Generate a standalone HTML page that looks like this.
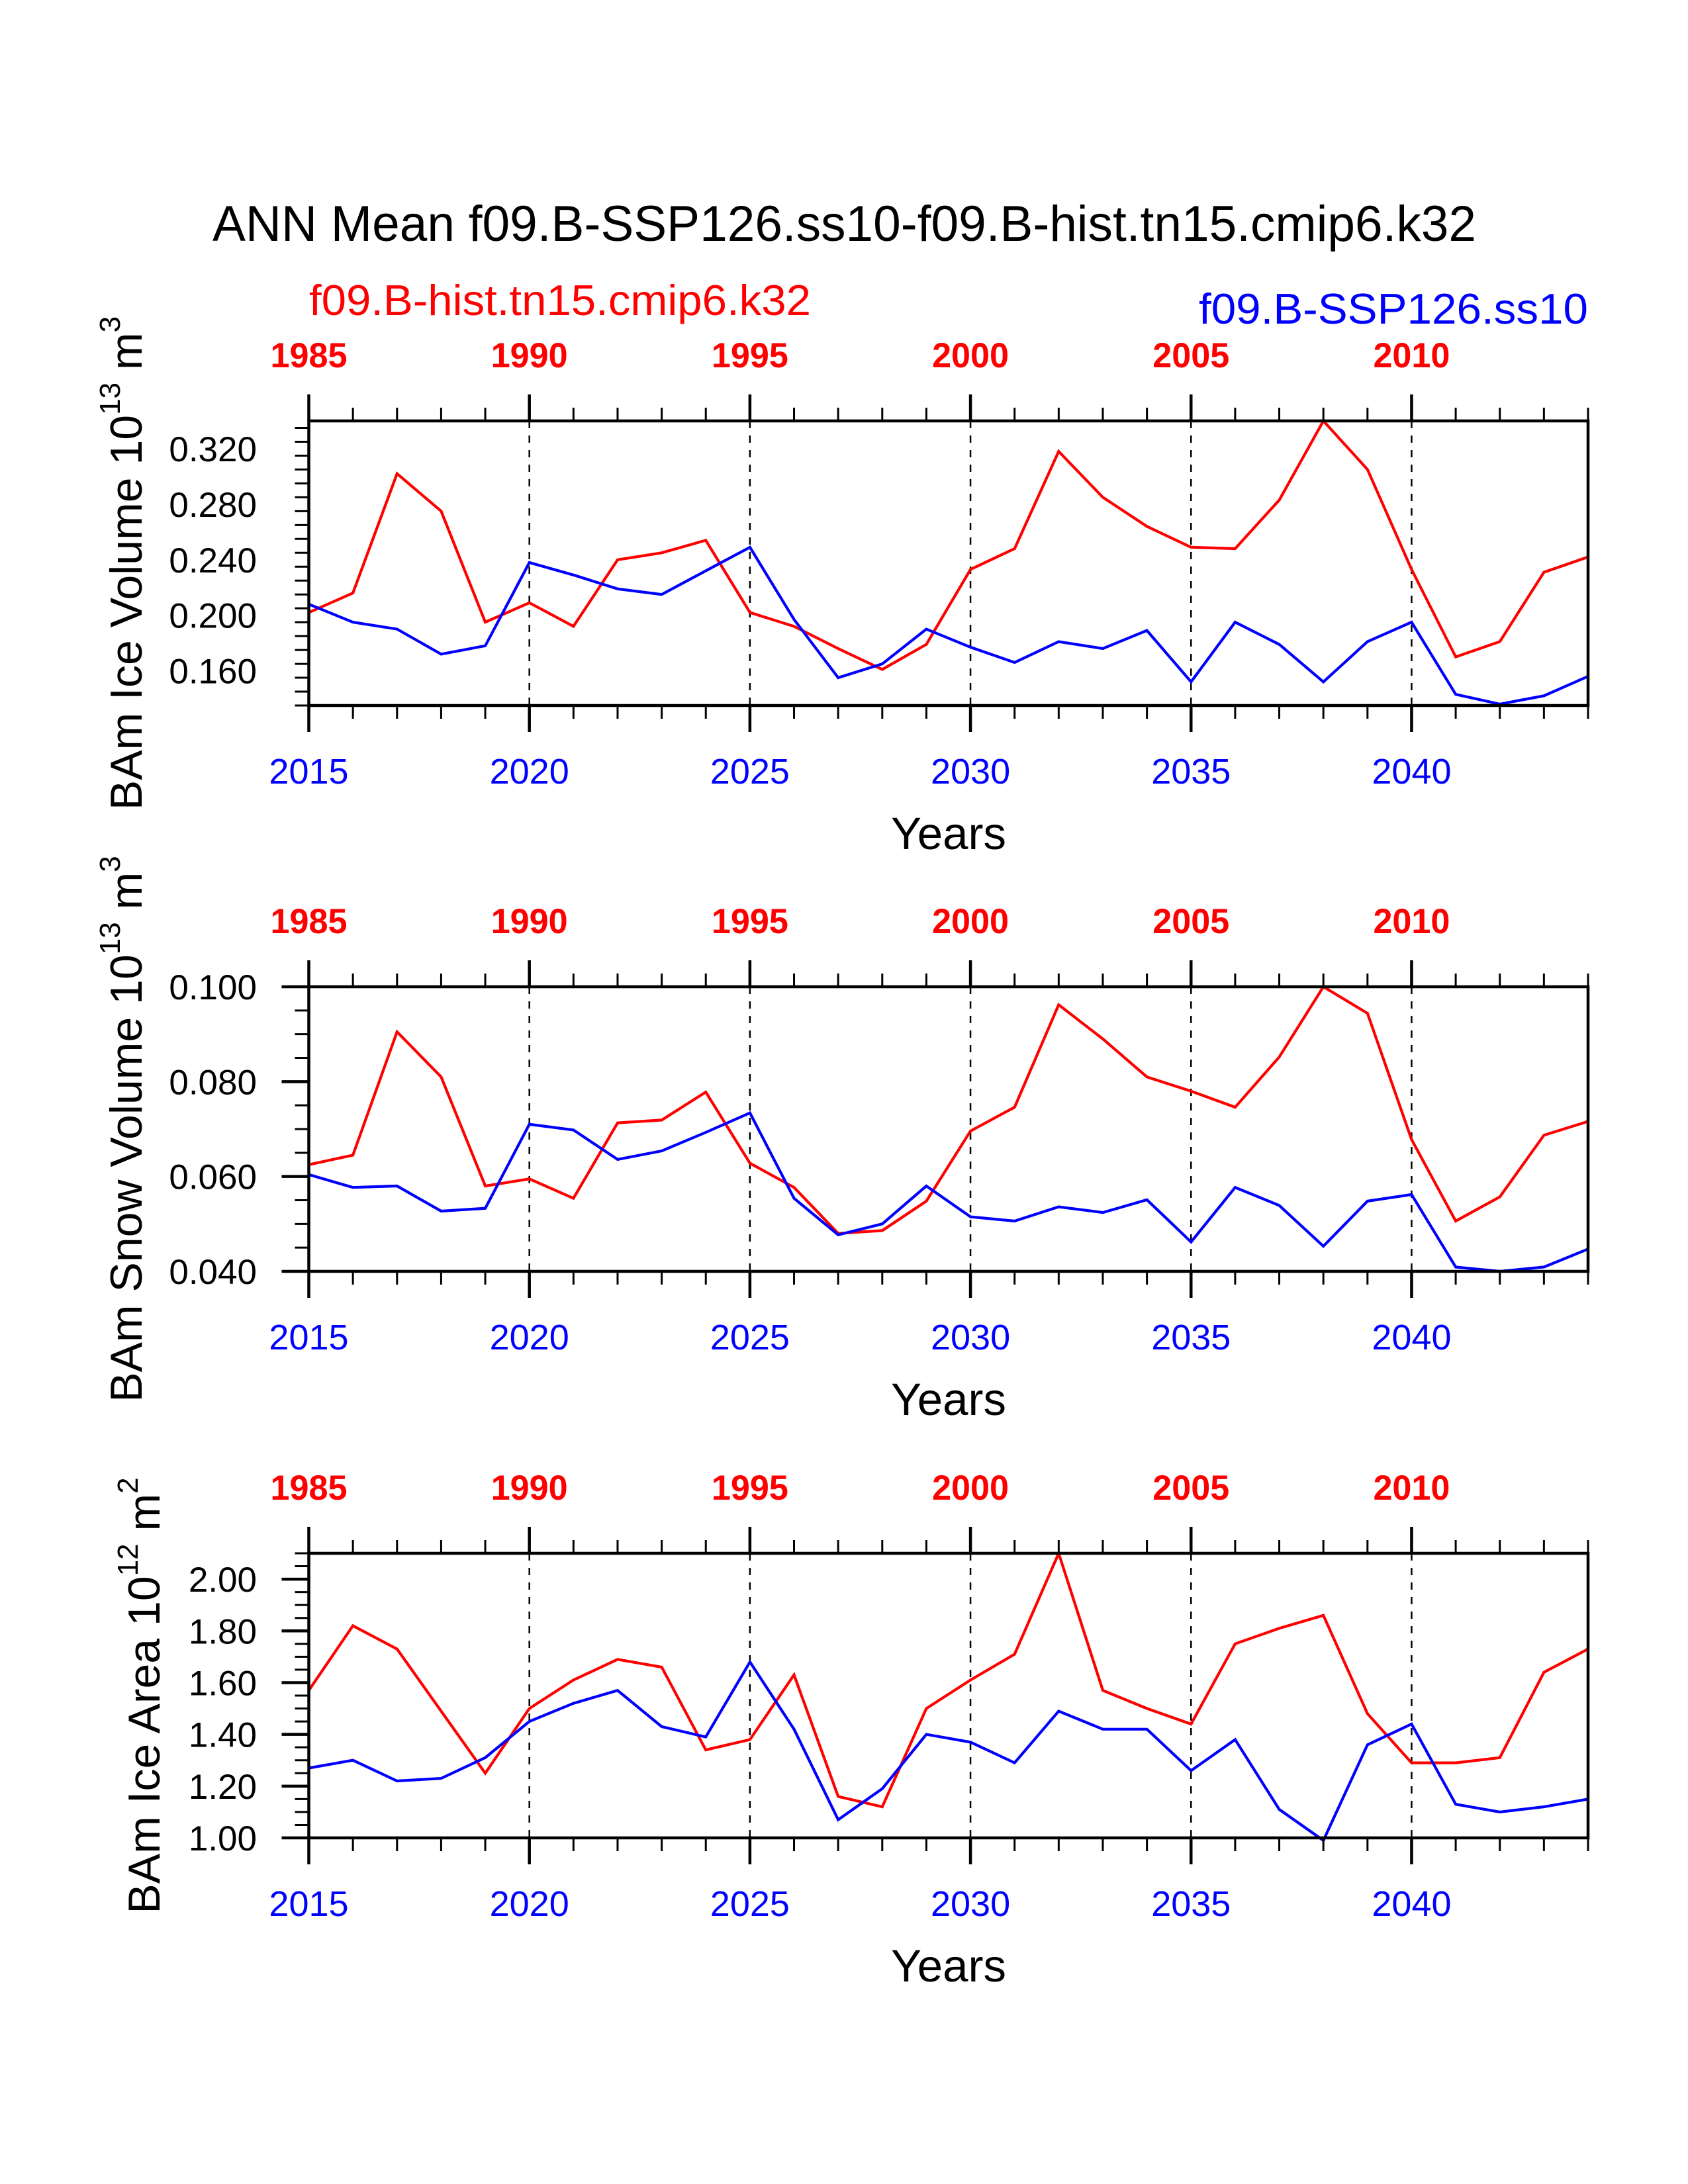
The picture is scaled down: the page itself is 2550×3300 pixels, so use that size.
<!DOCTYPE html>
<html><head><meta charset="utf-8"><style>
html,body{margin:0;padding:0;background:#fff;}
svg{display:block;}
text{font-family:"Liberation Sans",Arial,sans-serif;}
</style></head><body>
<svg id="fig" width="2550" height="3300" viewBox="0 0 2550 3300" xmlns="http://www.w3.org/2000/svg">
<rect width="2550" height="3300" fill="#fff"/>
<text x="321" y="364" font-size="76" textLength="1909" lengthAdjust="spacingAndGlyphs" fill="#000">ANN Mean f09.B-SSP126.ss10-f09.B-hist.tn15.cmip6.k32</text>
<text x="467" y="476" font-size="65" textLength="758" lengthAdjust="spacingAndGlyphs" fill="#ff0000">f09.B-hist.tn15.cmip6.k32</text>
<text x="1811" y="489" font-size="65" textLength="588" lengthAdjust="spacingAndGlyphs" fill="#0000ff">f09.B-SSP126.ss10</text>
<g id="plots"></g>
</svg>
<script>
// shared x data
const years = [2015,2016,2017,2018,2019,2020,2021,2022,2023,2024,2025,2026,2027,2028,2029,2030,2031,2032,2033,2034,2035,2036,2037,2038,2039,2040,2041,2042,2043,2044];
const bottomTicks = [2015,2020,2025,2030,2035,2040];
const topTicks = ["1985","1990","1995","2000","2005","2010"];
// panel 1: ice volume
const iceVolHist = [0.202,0.216,0.302,0.275,0.195,0.209,0.192,0.240,0.245,0.254,0.202,0.192,0.176,0.161,0.179,0.233,0.248,0.318,0.285,0.264,0.249,0.248,0.283,0.340,0.305,0.233,0.170,0.181,0.231,0.242];
const iceVolSsp = [0.208,0.195,0.190,0.172,0.178,0.238,0.229,0.219,0.215,0.232,0.249,0.197,0.155,0.165,0.190,0.177,0.166,0.181,0.176,0.189,0.152,0.195,0.179,0.152,0.181,0.195,0.143,0.136,0.142,0.156];
const iceVolTicks = [0.160,0.200,0.240,0.280,0.320];
// panel 2: snow volume
const snowVolHist = [0.0625,0.0645,0.0905,0.081,0.058,0.0595,0.0554,0.0713,0.0719,0.0778,0.0628,0.0577,0.048,0.0486,0.0548,0.0696,0.0746,0.0962,0.089,0.081,0.078,0.0746,0.0852,0.100,0.0944,0.0678,0.0506,0.0557,0.0687,0.0716];
const snowVolSsp = [0.0604,0.0577,0.058,0.0527,0.0533,0.071,0.0698,0.0636,0.0654,0.0693,0.0734,0.0554,0.0477,0.050,0.058,0.0515,0.0506,0.0536,0.0524,0.0551,0.0462,0.0577,0.0539,0.0453,0.0548,0.0562,0.0409,0.040,0.0409,0.0447];
const snowVolTicks = [0.040,0.060,0.080,0.100];
// panel 3: ice area
const iceAreaHist = [1.57,1.82,1.73,1.49,1.25,1.50,1.61,1.69,1.66,1.34,1.38,1.63,1.16,1.12,1.50,1.61,1.71,2.10,1.57,1.50,1.44,1.75,1.81,1.86,1.48,1.29,1.29,1.31,1.64,1.73];
const iceAreaSsp = [1.27,1.30,1.22,1.23,1.31,1.45,1.52,1.57,1.43,1.39,1.68,1.42,1.07,1.19,1.40,1.37,1.29,1.49,1.42,1.42,1.26,1.38,1.11,0.99,1.36,1.44,1.13,1.10,1.12,1.15];
const iceAreaTicks = [1.00,1.20,1.40,1.60,1.80,2.00];

const NS="http://www.w3.org/2000/svg";
const root=document.getElementById('plots');
const X0=466.5, X1=2399;
function xs(yr){return X0+(yr-2015)/(2044-2015)*(X1-X0);}
function mk(tag,attrs,parent){const e=document.createElementNS(NS,tag);for(const k in attrs)e.setAttribute(k,attrs[k]);(parent||root).appendChild(e);return e;}

function panel(o){
  const g=mk('g',{});
  
  
  const T=o.top,B=o.top+430;
  const ys=v=>B-(v-o.ymin)/(o.ymax-o.ymin)*(B-T);
  bottomTicks.forEach(yr=>{ if(yr===2015)return;
    const l=mk('line',{x1:xs(yr),x2:xs(yr),y1:T,y2:B,stroke:'#000','stroke-width':2.5,'stroke-dasharray':'11 11'},g);
    
    
  });
  const series=[[o.hist,'#ff0000','hist-line'],[o.ssp,'#0000ff','ssp-line']];
  series.forEach(s=>{
    const pts=s[0].map((v,i)=>xs(years[i]).toFixed(1)+','+ys(v).toFixed(1)).join(' ');
    const p=mk('polyline',{points:pts,fill:'none',stroke:s[1],'stroke-width':4.2,'stroke-linejoin':'miter'},g);
    
    
  });
  years.forEach(yr=>{
    const maj=(yr-2015)%5===0, len=maj?40:20, w=maj?4.5:3;
    const t1=mk('line',{x1:xs(yr),x2:xs(yr),y1:T,y2:T-len,stroke:'#000','stroke-width':w},g);
    
    
    const t2=mk('line',{x1:xs(yr),x2:xs(yr),y1:B,y2:B+len,stroke:'#000','stroke-width':w},g);
    
    
  });
  bottomTicks.forEach((yr,i)=>{
    const b=mk('text',{x:xs(yr),y:B+118,'font-size':54,'text-anchor':'middle',fill:'#0000ff'},g);
    b.textContent=String(yr);
    
    
    const t=mk('text',{x:xs(yr),y:T-81,'font-size':53,'font-weight':'bold','text-anchor':'middle',fill:'#ff0000',textLength:116,lengthAdjust:'spacingAndGlyphs'},g);
    t.textContent=topTicks[i];
    
    
  });
  const nMin=Math.round((o.ymax-o.ymin)/o.minor);
  for(let k=0;k<=nMin;k++){
    const v=o.ymin+k*o.minor; if(v>o.ymax+1e-9)break;
    const isMaj=o.ticks.some(t=>Math.abs(t-v)<1e-9);
    const l=mk('line',{x1:X0,x2:X0-(isMaj?41:21),y1:ys(v),y2:ys(v),stroke:'#000','stroke-width':isMaj?4.5:3},g);
    
    
  }
  o.ticks.forEach(v=>{
    const t=mk('text',{x:388,y:ys(v)+19,'font-size':53,'text-anchor':'end',fill:'#000'},g);
    t.textContent=v.toFixed(o.dec);
    
    
  });
  const f=mk('rect',{x:X0,y:T,width:X1-X0,height:B-T,fill:'none',stroke:'#000','stroke-width':4.5},g);
  
  
  const xt=mk('text',{x:1433,y:B+217,'font-size':69,'text-anchor':'middle',fill:'#000'},g);
  xt.textContent='Years';
  
  
  const cy=(T+B)/2;
  const yt=mk('text',{x:0,y:0,'font-size':68,'text-anchor':'middle',fill:'#000',transform:`translate(${o.titleX},${cy}) rotate(-90)`},g);
  
  
  const s1=mk('tspan',{},yt); s1.textContent=o.ylab+' 10';
  const s2=mk('tspan',{'font-size':44,dy:-33},yt); s2.textContent=o.exp1;
  const s3=mk('tspan',{dy:33},yt); s3.textContent=' m';
  const s4=mk('tspan',{'font-size':44,dy:-33},yt); s4.textContent=o.exp2;
}
panel({name:'ice-volume-panel',top:636,ymin:0.135,ymax:0.340,minor:0.01,ticks:iceVolTicks,dec:3,hist:iceVolHist,ssp:iceVolSsp,ylab:'BAm Ice Volume',exp1:'13',exp2:'3',titleX:214});
panel({name:'snow-volume-panel',top:1491,ymin:0.040,ymax:0.100,minor:0.005,ticks:snowVolTicks,dec:3,hist:snowVolHist,ssp:snowVolSsp,ylab:'BAm Snow Volume',exp1:'13',exp2:'3',titleX:214});
panel({name:'ice-area-panel',top:2347,ymin:1.00,ymax:2.10,minor:0.05,ticks:iceAreaTicks,dec:2,hist:iceAreaHist,ssp:iceAreaSsp,ylab:'BAm Ice Area',exp1:'12',exp2:'2',titleX:241});
</script>
</body></html>
